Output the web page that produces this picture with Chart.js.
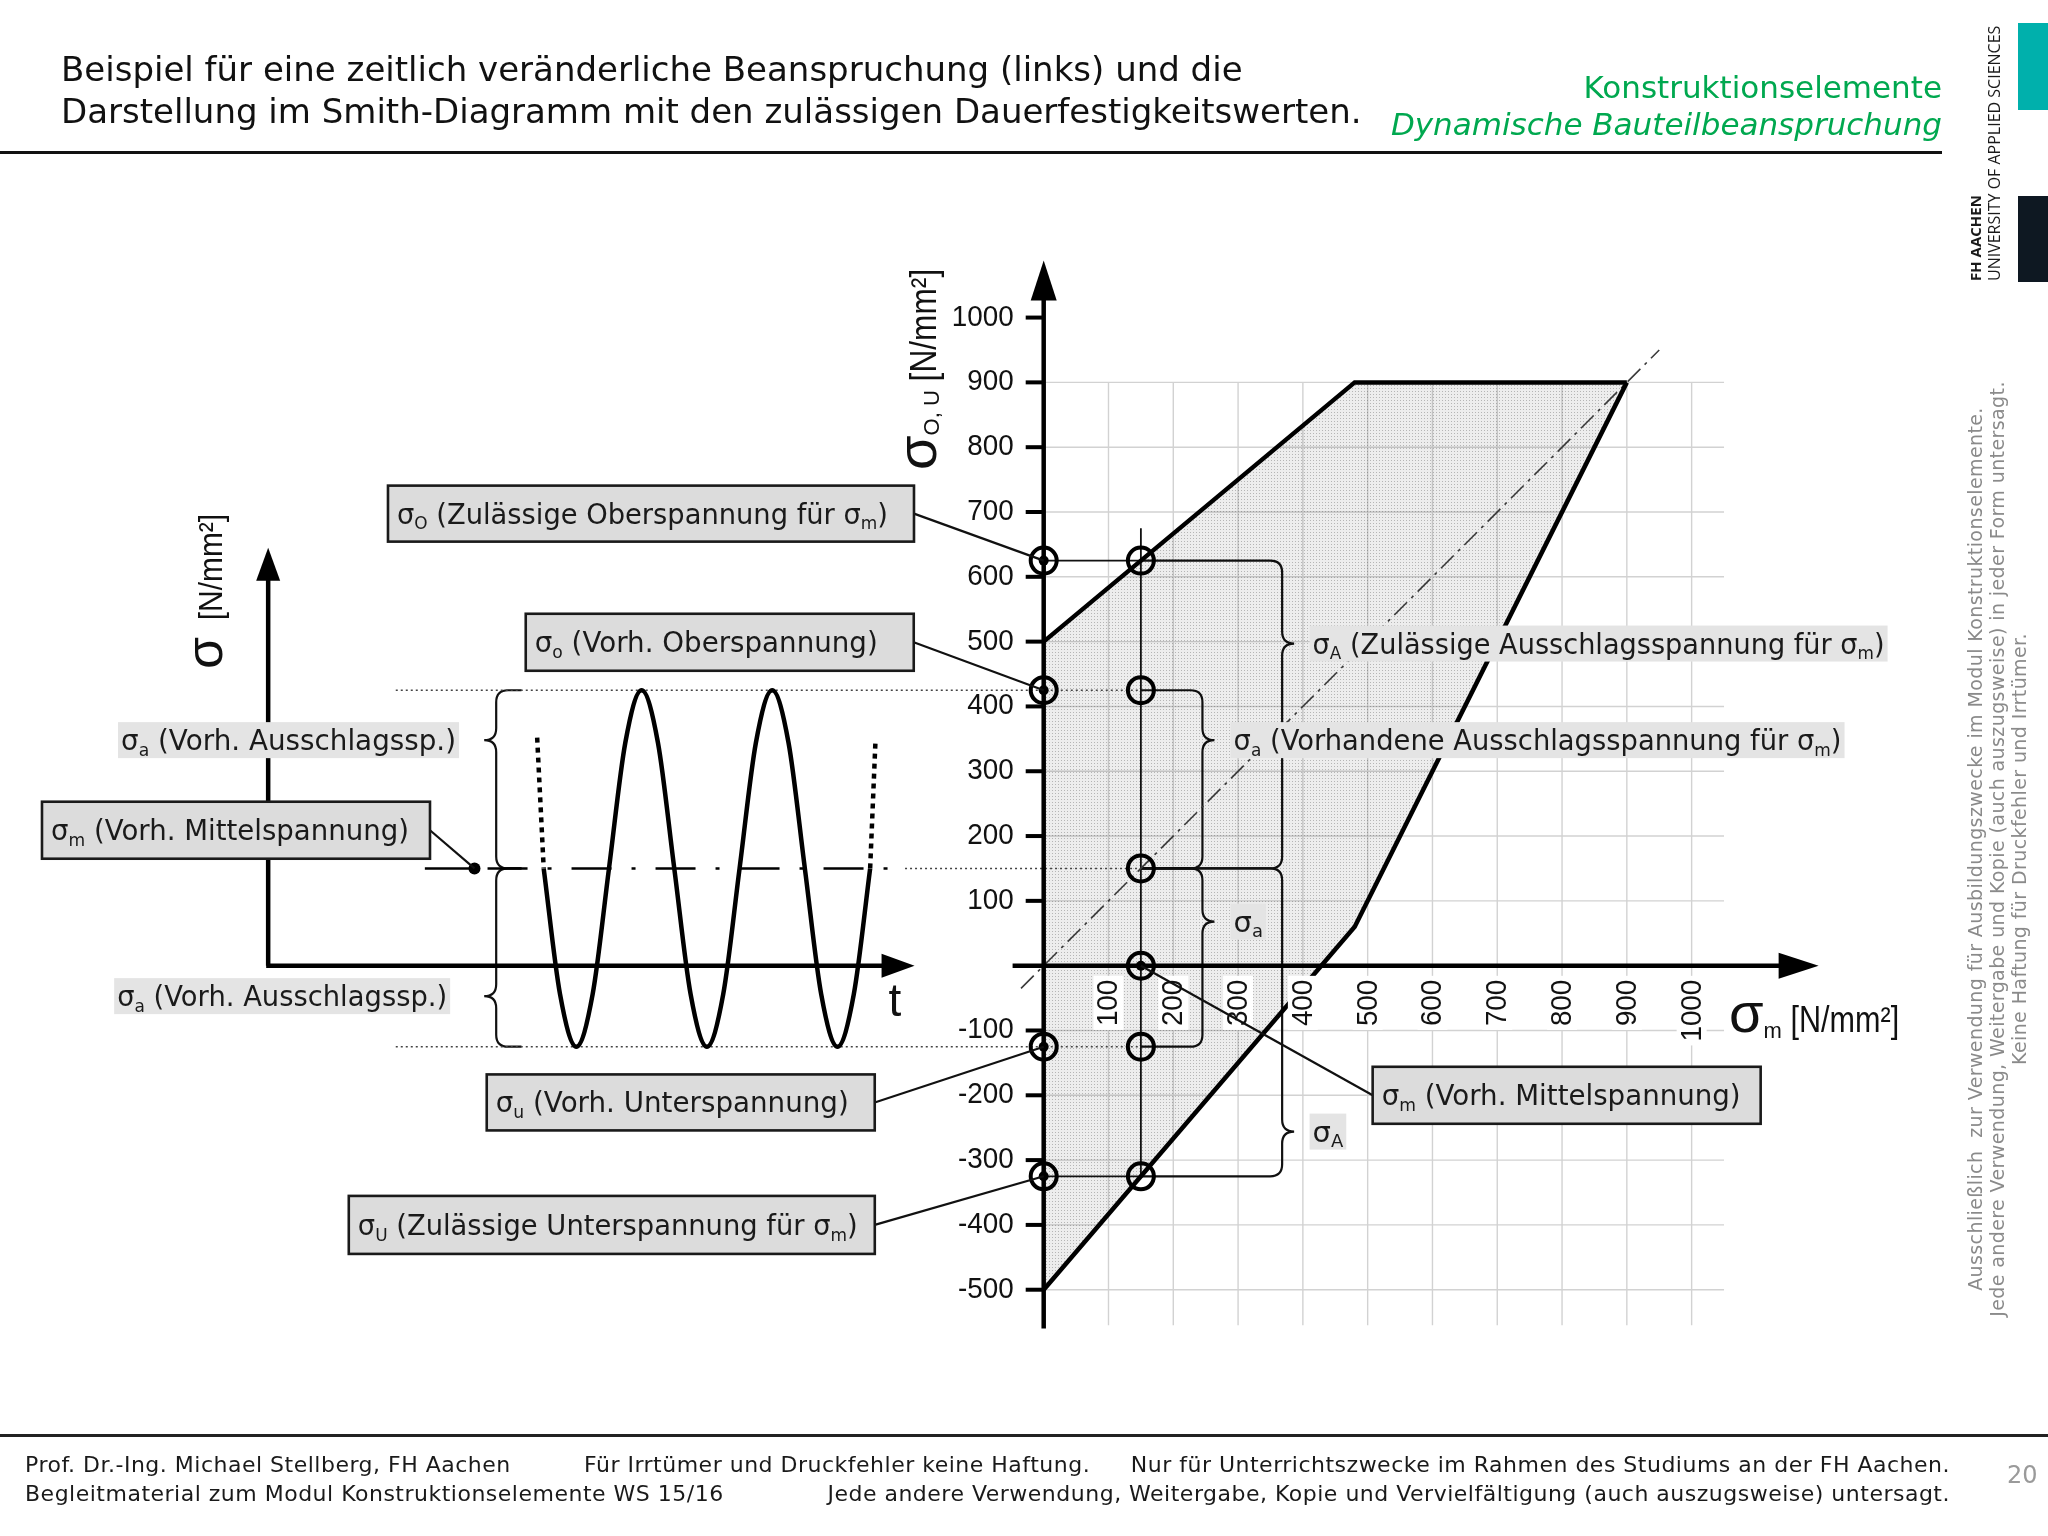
<!DOCTYPE html>
<html lang="de">
<head>
<meta charset="utf-8">
<title>Smith-Diagramm – Dynamische Bauteilbeanspruchung</title>
<script src="https://cdn.jsdelivr.net/npm/chart.js@4.4.1/dist/chart.umd.min.js"></script>
<style>
  html, body { margin: 0; padding: 0; background: #fff; }
  body { position: relative; width: 2048px; height: 1536px; overflow: hidden;
         font-family: 'DejaVu Sans', Verdana, sans-serif; color: #111; }
  #chart { position: absolute; left: 7px; top: 0; }
  .abs { position: absolute; white-space: pre; }
  #title { left: 61px; top: 48px; font-size: 34px; line-height: 42px; color: #111; }
  #topic { right: 106px; top: 69px; font-size: 31px; line-height: 37px; color: #00a84f; text-align: right; }
  #topic i { font-style: oblique; }
  #rule-top { left: 0; top: 151px; width: 1942px; height: 3px; background: #111; }
  #rule-bottom { left: 0; top: 1434px; width: 2048px; height: 3px; background: #222; }
  .foot { font-size: 22px; line-height: 29px; letter-spacing: 0.5px; color: #1a1a1a; }
  #logo-teal { left: 2018px; top: 23px; width: 30px; height: 87px; background: #00b0ac; }
  #logo-dark { left: 2018px; top: 196px; width: 30px; height: 86px; background: #0e1822; }
  #logo-text { left: 1966px; top: 281px; transform-origin: 0 0; transform: rotate(-90deg);
               font-family: 'Open Sans', sans-serif; font-size: 16px; line-height: 19px; color: #1a1a1a; }
  #logo-text b { font-size: 15px; }
  #notice { left: 1964px; top: 1349px; width: 1000px; transform-origin: 0 0; transform: rotate(-90deg);
            text-align: center; font-size: 19px; line-height: 22px; letter-spacing: 0.4px; color: #8a8a8a; }
  #page { left: 2007px; top: 1461px; font-size: 24px; line-height: 28px; color: #9a9a9a; }
</style>
</head>
<body>
<canvas id="chart" width="2041" height="1536"></canvas>

<div id="title" class="abs">Beispiel für eine zeitlich veränderliche Beanspruchung (links) und die
Darstellung im Smith-Diagramm mit den zulässigen Dauerfestigkeitswerten.</div>
<div id="topic" class="abs">Konstruktionselemente
<i>Dynamische Bauteilbeanspruchung</i></div>
<div id="rule-top" class="abs"></div>

<div id="logo-teal" class="abs"></div>
<div id="logo-dark" class="abs"></div>
<div id="logo-text" class="abs"><b>FH AACHEN</b>
UNIVERSITY OF APPLIED SCIENCES</div>
<div id="notice" class="abs">Ausschließlich  zur Verwendung für Ausbildungszwecke im Modul Konstruktionselemente.
Jede andere Verwendung, Weitergabe und Kopie (auch auszugsweise) in jeder Form untersagt.
Keine Haftung für Druckfehler und Irrtümer.</div>

<div id="rule-bottom" class="abs"></div>
<div class="abs foot" style="left:25px; top:1450px">Prof. Dr.-Ing. Michael Stellberg, FH Aachen</div>
<div class="abs foot" style="left:584px; top:1450px">Für Irrtümer und Druckfehler keine Haftung.</div>
<div class="abs foot" style="right:98px; top:1450px">Nur für Unterrichtszwecke im Rahmen des Studiums an der FH Aachen.</div>
<div class="abs foot" style="left:25px; top:1479px">Begleitmaterial zum Modul Konstruktionselemente WS 15/16</div>
<div class="abs foot" style="right:98px; top:1479px">Jede andere Verwendung, Weitergabe, Kopie und Vervielfältigung (auch auszugsweise) untersagt.</div>
<div id="page" class="abs">20</div>

<script>
// ── SMITH DIAGRAM (σm / σo,u in N/mm²) ──
const smithUpper = [[0, 500], [480, 900], [900, 900]];          // zulässige Oberspannung
const smithLower = [[0, -500], [480, 60], [900, 900]];          // zulässige Unterspannung
const smithArea  = [[0, -500], [0, 500], [480, 900], [900, 900], [480, 60], [0, -500]];
const diagonal   = [[-35, -35], [950, 950]];

// ── OPERATING POINT σm = 150 ──
const axisMarks    = [[0, 625], [0, 425], [0, -125], [0, -325]];
const meanMarks    = [[150, 625], [150, 425], [150, 150], [150, 0], [150, -125], [150, -325]];
const centerDots   = [[0, 625], [0, 425], [0, -125], [0, -325], [150, 0]];
const meanVertical = [[150, 675], [150, -325]];
const linkUpper    = [[0, 625], [150, 625]];
const linkLower    = [[0, -325], [150, -325]];
const dottedTop    = [[-1000, 425], [150, 425]];
const dottedBottom = [[-1000, -125], [150, -125]];
const dottedMean   = [[-214, 150], [150, 150]];

// ── TIME SIGNAL (t in periods, σ in N/mm²) ──
const signalT = [2.11, 2.235, 2.36, 2.485, 2.61, 2.735, 2.86, 2.985, 3.11, 3.235, 3.36,
                 3.485, 3.61, 3.735, 3.86, 3.985, 4.11, 4.235, 4.36, 4.485, 4.61];
const signalS = [150, -44, -125, -44, 150, 344, 425, 344, 150, -44, -125,
                 -44, 150, 344, 425, 344, 150, -44, -125, -44, 150];
const signalLead = [[2.06, 352], [2.11, 150]];
const signalTail = [[4.61, 150], [4.65, 343]];
const meanLead   = [[1.2, 150], [1.58, 150]];
const meanDash   = [[1.68, 150], [4.88, 150]];
const meanDot    = [[1.58, 150]];

// ── AXES / GRID ──
const yTicks = [-500, -400, -300, -200, -100, 100, 200, 300, 400, 500, 600, 700, 800, 900, 1000];
const xTicks = [100, 200, 300, 400, 500, 600, 700, 800, 900, 1000];
const gridX  = [100, 200, 300, 400, 500, 600, 700, 800, 900, 1000];
const gridY  = [-500, -400, -300, -200, -100, 0, 100, 200, 300, 400, 500, 600, 700, 800, 900];

// ── ANNOTATIONS ──
const braces = [
  { x: 368,  from: 625, to: 150,  tip: 497,  arm: 150,  dir: 1 },
  { x: 245,  from: 425, to: 150,  tip: 348,  arm: 150,  dir: 1 },
  { x: 245,  from: 150, to: -125, tip: 68,   arm: 150,  dir: 1 },
  { x: 368,  from: 150, to: -325, tip: -256, arm: 150,  dir: 1 },
  { x: -845, from: 425, to: 150,  tip: 348,  arm: -806, dir: -1 },
  { x: -845, from: 150, to: -125, tip: -47,  arm: -806, dir: -1 },
];
const labels = [
  { text: 'σ_A (Zulässige Ausschlagsspannung für σ_m)',  x: 415,   y: 497,  tw: 572 },
  { text: 'σ_a (Vorhandene Ausschlagsspannung für σ_m)', x: 293,   y: 348,  tw: 608 },
  { text: 'σ_a', x: 293, y: 68 },
  { text: 'σ_A', x: 415, y: -256 },
  { text: 'σ_a (Vorh. Ausschlagssp.)', x: -1424, y: 348, tw: 335 },
  { text: 'σ_a (Vorh. Ausschlagssp.)', x: -1430, y: -47, tw: 330 },
];
const callouts = [
  { text: 'σ_O (Zulässige Oberspannung für σ_m)',  x: -1012,  y: 697.5, w: 526, h: 56, tw: 491, to: [0, 625] },
  { text: 'σ_o (Vorh. Oberspannung)',              x: -799.4, y: 499,   w: 388, h: 57, tw: 343, to: [0, 425] },
  { text: 'σ_m (Vorh. Mittelspannung)',            x: -1546,  y: 209,   w: 388, h: 57, tw: 358, to: [1.58, 150], axis: 'xt' },
  { text: 'σ_u (Vorh. Unterspannung)',             x: -859.6, y: -211,  w: 388, h: 56, tw: 353, to: [0, -125] },
  { text: 'σ_U (Zulässige Unterspannung für σ_m)', x: -1072.5, y: -400, w: 526, h: 58, tw: 500, to: [0, -325] },
  { text: 'σ_m (Vorh. Mittelspannung)',            x: 507.7,  y: -200,  w: 388, h: 57, tw: 359, to: [150, 0], side: 'left' },
];

const TEXT_FONT = "'DejaVu Sans', Verdana, sans-serif";
const NUM_FONT = "'Liberation Sans', Arial, sans-serif";

// ── HELPERS ──
const pts = arr => arr.map(([x, y]) => ({ x, y }));

function ls(color, width, dash, axisId) {
  return {
    showLine: true,
    borderColor: color,
    backgroundColor: 'transparent',
    borderWidth: width || 2,
    borderDash: dash || [],
    pointRadius: 0,
    tension: 0,
    fill: false,
    xAxisID: axisId || 'x',
    order: 3
  };
}

function stipple() {
  const c = document.createElement('canvas');
  c.width = 3; c.height = 3;
  const g = c.getContext('2d');
  g.fillStyle = 'rgba(0,0,0,0.07)';
  g.fillRect(0, 0, 3, 3);
  g.fillStyle = 'rgba(0,0,0,0.24)';
  g.fillRect(1, 1, 1, 1);
  return g.createPattern(c, 'repeat');
}

function parseRich(text) {
  const runs = [];
  for (let i = 0; i < text.length; i++) {
    if (text[i] === '_') { runs.push({ t: text[i + 1], sub: true }); i++; }
    else if (runs.length && !runs[runs.length - 1].sub) runs[runs.length - 1].t += text[i];
    else runs.push({ t: text[i], sub: false });
  }
  return runs;
}

function richWidth(ctx, text, size) {
  let w = 0;
  parseRich(text).forEach(r => {
    ctx.font = `${r.sub ? size * 0.62 : size}px ${TEXT_FONT}`;
    w += ctx.measureText(r.t).width;
  });
  return w;
}

function drawRich(ctx, text, x, y, size, fitW) {
  const natural = richWidth(ctx, text, size);
  const sx = fitW ? fitW / natural : 1;
  ctx.save();
  ctx.translate(x, y);
  ctx.scale(sx, 1);
  ctx.textAlign = 'left';
  ctx.textBaseline = 'alphabetic';
  let cx = 0;
  parseRich(text).forEach(r => {
    ctx.font = `${r.sub ? size * 0.62 : size}px ${TEXT_FONT}`;
    ctx.fillText(r.t, cx, r.sub ? size * 0.2 : 0);
    cx += ctx.measureText(r.t).width;
  });
  ctx.restore();
  return natural * sx;
}

function drawRuns(ctx, runs) {
  let cx = 0;
  ctx.textAlign = 'left';
  ctx.textBaseline = 'alphabetic';
  runs.forEach(r => {
    const sx = r.sx || 1;
    ctx.font = `${r.size}px ${NUM_FONT}`;
    ctx.save();
    ctx.translate(cx, r.dy || 0);
    ctx.scale(sx, 1);
    ctx.fillText(r.t, 0, 0);
    ctx.restore();
    cx += ctx.measureText(r.t).width * sx;
  });
}

function seg(ctx, x1, y1, x2, y2) {
  ctx.beginPath(); ctx.moveTo(x1, y1); ctx.lineTo(x2, y2); ctx.stroke();
}

function arrow(ctx, x, y, dx, dy, len, half) {
  // tip at (x, y), pointing along (dx, dy)
  ctx.beginPath();
  ctx.moveTo(x, y);
  ctx.lineTo(x - dx * len - dy * half, y - dy * len + dx * half);
  ctx.lineTo(x - dx * len + dy * half, y - dy * len - dx * half);
  ctx.closePath();
  ctx.fill();
}

function drawBrace(ctx, x, y1, y2, tip, arm, dir) {
  const r = 12, a = Math.sign(arm - x);
  ctx.beginPath();
  ctx.moveTo(arm, y1);
  ctx.lineTo(x + a * r, y1);
  ctx.quadraticCurveTo(x, y1, x, y1 + r);
  ctx.lineTo(x, tip - r);
  ctx.quadraticCurveTo(x, tip, x + dir * r, tip);
  ctx.quadraticCurveTo(x, tip, x, tip + r);
  ctx.lineTo(x, y2 - r);
  ctx.quadraticCurveTo(x, y2, x + a * r, y2);
  ctx.lineTo(arm, y2);
  ctx.stroke();
}

// ── AXES, GRID, BRACES, LABELS ──
const smithPlugin = {
  id: 'smith',
  beforeDatasetsDraw(chart) {
    const { ctx } = chart;
    const X = v => chart.scales.x.getPixelForValue(v);
    const Y = v => chart.scales.y.getPixelForValue(v);
    ctx.save();
    ctx.strokeStyle = '#d2d2d2';
    ctx.lineWidth = 1.4;
    gridX.forEach(v => seg(ctx, X(v), Y(-555), X(v), Y(900)));
    gridY.forEach(v => seg(ctx, X(0), Y(v), X(1050), Y(v)));

    ctx.strokeStyle = '#111';
    ctx.lineWidth = 2.2;
    braces.forEach(b => drawBrace(ctx, X(b.x), Y(b.from), Y(b.to), Y(b.tip), X(b.arm), b.dir));
    ctx.restore();
  },
  afterDatasetsDraw(chart) {
    const { ctx } = chart;
    const X = v => chart.scales.x.getPixelForValue(v);
    const T = v => chart.scales.xt.getPixelForValue(v);
    const Y = v => chart.scales.y.getPixelForValue(v);
    ctx.save();
    ctx.fillStyle = ctx.strokeStyle = '#000';

    // σm / σo,u axes
    ctx.lineWidth = 4.5;
    seg(ctx, X(0), Y(-560), X(0), Y(1088) + 30);
    arrow(ctx, X(0), Y(1088), 0, -1, 40, 13);
    seg(ctx, X(-48), Y(0), X(1196) - 30, Y(0));
    arrow(ctx, X(1196), Y(0), 1, 0, 40, 13);

    // σ / t axes of the time signal
    seg(ctx, T(0), Y(0), T(0), Y(645) + 25);
    arrow(ctx, T(0), Y(645), 0, -1, 33, 12);
    seg(ctx, T(0) - 2, Y(0), T(4.95) - 25, Y(0));
    arrow(ctx, T(4.95), Y(0), 1, 0, 33, 12);

    // y ticks
    ctx.lineWidth = 4;
    ctx.textBaseline = 'middle';
    yTicks.forEach(v => {
      seg(ctx, X(0) - 18, Y(v), X(0), Y(v));
      ctx.save();
      ctx.translate(X(0) - 30, Y(v));
      ctx.scale(0.96, 1);
      ctx.font = `29px ${NUM_FONT}`;
      ctx.textAlign = 'right';
      ctx.fillStyle = '#111';
      ctx.fillText(String(v), 0, 0);
      ctx.restore();
    });

    // x tick labels (rotated, white ground)
    xTicks.forEach(v => {
      ctx.save();
      ctx.translate(X(v), Y(0) + 14);
      ctx.rotate(-Math.PI / 2);
      ctx.scale(0.96, 1);
      ctx.font = `29px ${NUM_FONT}`;
      const w = ctx.measureText(String(v)).width;
      ctx.fillStyle = '#fff';
      ctx.fillRect(-w - 4, -15, w + 8, 30);
      ctx.fillStyle = '#111';
      ctx.textAlign = 'right';
      ctx.textBaseline = 'middle';
      ctx.fillText(String(v), 0, 1);
      ctx.restore();
    });

    // axis titles
    ctx.fillStyle = '#111';
    ctx.save();
    ctx.translate(929, 470);
    ctx.rotate(-Math.PI / 2);
    drawRuns(ctx, [{ t: 'σ', size: 56 }, { t: 'O, U', size: 22, dy: 3 }, { t: ' [N/mm²]', size: 36, sx: 0.88 }]);
    ctx.restore();

    ctx.save();
    ctx.translate(1722, 1032);
    drawRuns(ctx, [{ t: 'σ', size: 56 }, { t: 'm', size: 22, dy: 6 }, { t: ' [N/mm²]', size: 36, sx: 0.85 }]);
    ctx.restore();

    ctx.save();
    ctx.translate(215, 669);
    ctx.rotate(-Math.PI / 2);
    drawRuns(ctx, [{ t: 'σ', size: 52 }, { t: '  [N/mm²]', size: 34, sx: 0.88 }]);
    ctx.restore();

    ctx.save();
    ctx.translate(T(4.75), Y(-77));
    drawRuns(ctx, [{ t: 't', size: 46 }]);
    ctx.restore();

    // floating labels
    labels.forEach(l => {
      const left = X(l.x), cy = Y(l.y);
      const w = l.tw || richWidth(ctx, l.text, 29);
      ctx.fillStyle = '#e4e4e4';
      ctx.fillRect(left - 3, cy - 18, w + 6, 36);
      ctx.fillStyle = '#1a1a1a';
      drawRich(ctx, l.text, left, cy + 10, 29, l.tw);
    });

    // callout boxes with leaders
    callouts.forEach(c => {
      const left = X(c.x), cy = Y(c.y), top = cy - c.h / 2;
      const sx = c.side === 'left' ? left : left + c.w;
      const tx = c.axis === 'xt' ? T(c.to[0]) : X(c.to[0]);
      ctx.strokeStyle = '#111';
      ctx.lineWidth = 2.2;
      seg(ctx, sx, cy, tx, Y(c.to[1]));
      ctx.fillStyle = '#dcdcdc';
      ctx.fillRect(left, top, c.w, c.h);
      ctx.lineWidth = 2.6;
      ctx.strokeStyle = '#1a1a1a';
      ctx.strokeRect(left, top, c.w, c.h);
      ctx.fillStyle = '#1a1a1a';
      drawRich(ctx, c.text, left + 9, cy + 10, 29, c.tw);
    });
    ctx.restore();
  }
};

// ── INIT ──
const canvas = document.getElementById('chart');

new Chart(canvas, {
  type: 'scatter',
  data: {
    datasets: [
      { data: pts(smithArea), showLine: true, borderWidth: 0, pointRadius: 0,
        backgroundColor: stipple(), fill: 'shape', order: 9 },
      { data: pts(diagonal),     ...ls('#3a3a3a', 1.6, [18, 6, 3, 6]) },
      { data: pts(dottedTop),    ...ls('#444', 1.6, [2, 3]) },
      { data: pts(dottedBottom), ...ls('#444', 1.6, [2, 3]) },
      { data: pts(dottedMean),   ...ls('#444', 1.6, [2, 3]) },
      { data: pts(meanVertical), ...ls('#111', 1.8) },
      { data: pts(linkUpper),    ...ls('#111', 1.8) },
      { data: pts(linkLower),    ...ls('#111', 1.8) },
      { data: pts(smithUpper),   ...ls('#000', 4.5), order: 2 },
      { data: pts(smithLower),   ...ls('#000', 4.5), order: 2 },
      { data: signalT.map((t, i) => ({ x: t, y: signalS[i] })), ...ls('#000', 4.5, [], 'xt'),
        cubicInterpolationMode: 'monotone', order: 2 },
      { data: pts(signalLead),   ...ls('#000', 4.5, [5, 5], 'xt') },
      { data: pts(signalTail),   ...ls('#000', 4.5, [5, 5], 'xt') },
      { data: pts(meanLead),     ...ls('#000', 2.6, [], 'xt') },
      { data: pts(meanDash),     ...ls('#000', 2.6, [40, 20, 4, 20], 'xt') },
      { data: pts(meanDot), xAxisID: 'xt', pointRadius: 6, pointBackgroundColor: '#000',
        pointBorderWidth: 0, order: 0 },
      { data: pts(axisMarks.concat(meanMarks)), pointRadius: 13, pointBorderWidth: 4,
        pointBorderColor: '#000', pointBackgroundColor: 'rgba(0,0,0,0)', order: 0 },
      { data: pts(centerDots), pointRadius: 5, pointBackgroundColor: '#000',
        pointBorderWidth: 0, order: 0 },
    ]
  },
  options: {
    responsive: false,
    animation: false,
    devicePixelRatio: 1,
    events: [],
    layout: { padding: 0, autoPadding: false },
    plugins: { legend: { display: false }, tooltip: { enabled: false } },
    scales: {
      x:  { type: 'linear', axis: 'x', min: -1600, max: 1550, display: false },
      xt: { type: 'linear', axis: 'x', min: -2, max: 13.63, display: false },
      y:  { type: 'linear', axis: 'y', min: -880, max: 1490, display: false }
    }
  },
  plugins: [smithPlugin]
});
</script>
</body>
</html>
